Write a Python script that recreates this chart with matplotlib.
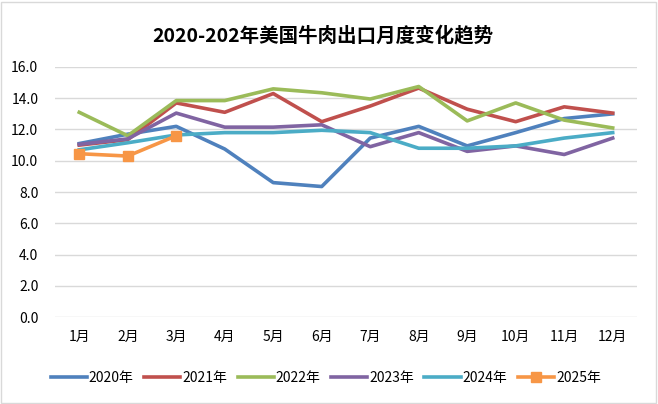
import matplotlib.pyplot as plt
from matplotlib.patches import Rectangle

plt.rcParams['font.family'] = ['Noto Sans CJK SC', 'DejaVu Sans']

# Data
months = ['1月', '2月', '3月', '4月', '5月', '6月', '7月', '8月', '9月', '10月', '11月', '12月']
y2020 = [11.1, 11.7, 12.2, 10.75, 8.6, 8.35, 11.45, 12.2, 10.95, 11.8, 12.7, 13.0]
y2021 = [11.0, 11.35, 13.7, 13.1, 14.3, 12.5, 13.5, 14.65, 13.3, 12.5, 13.45, 13.05]
y2022 = [13.1, 11.6, 13.85, 13.85, 14.6, 14.35, 13.95, 14.75, 12.55, 13.7, 12.6, 12.1]
y2023 = [11.05, 11.4, 13.05, 12.15, 12.15, 12.3, 10.9, 11.8, 10.6, 10.95, 10.4, 11.45]
y2024 = [10.7, 11.15, 11.65, 11.8, 11.8, 11.95, 11.8, 10.8, 10.8, 10.95, 11.45, 11.8]
y2025 = [10.45, 10.3, 11.6]

series = [
    ('2020年', y2020, '#4F81BD'),
    ('2021年', y2021, '#C0504D'),
    ('2022年', y2022, '#9BBB59'),
    ('2023年', y2023, '#8064A2'),
    ('2024年', y2024, '#4BACC6'),
]

fig = plt.figure(figsize=(6.58, 4.04), dpi=100)
ax = fig.add_axes([0.0836, 0.2153, 0.8844, 0.6189])

x = list(range(len(months)))
for name, vals, color in series:
    ax.plot(x[:len(vals)], vals, color=color, lw=2.6, label=name)
ax.plot(x[:len(y2025)], y2025, color='#F79646', lw=2.6, marker='s',
        markersize=7, label='2025年')

ax.set_xlim(-0.5, len(months) - 0.5)
ax.set_ylim(0, 16)
ax.set_yticks(range(0, 17, 2))
ax.set_yticklabels([f'{v:.1f}' for v in range(0, 17, 2)], fontsize=10)
ax.set_xticks(x)
ax.set_xticklabels(months, fontsize=10)
ax.tick_params(length=0, pad=12)
ax.tick_params(axis='x', pad=9)
ax.grid(axis='y', color='#D9D9D9', lw=1)
ax.set_axisbelow(True)
for s in ax.spines.values():
    s.set_visible(False)

fig.text(0.49, 0.912, '2020-202年美国牛肉出口月度变化趋势', ha='center', va='center',
         fontsize=14, fontweight='bold')

fig.legend(loc='center', bbox_to_anchor=(0.495, 0.065), ncol=6, frameon=False,
           fontsize=10, handlelength=2.6, handletextpad=0.15, columnspacing=0.75)

fig.patches.append(Rectangle((0.002, 0.003), 0.995, 0.993, transform=fig.transFigure,
                             fill=False, edgecolor='#D9D9D9', lw=1))

fig.savefig('out.png', dpi=100)
